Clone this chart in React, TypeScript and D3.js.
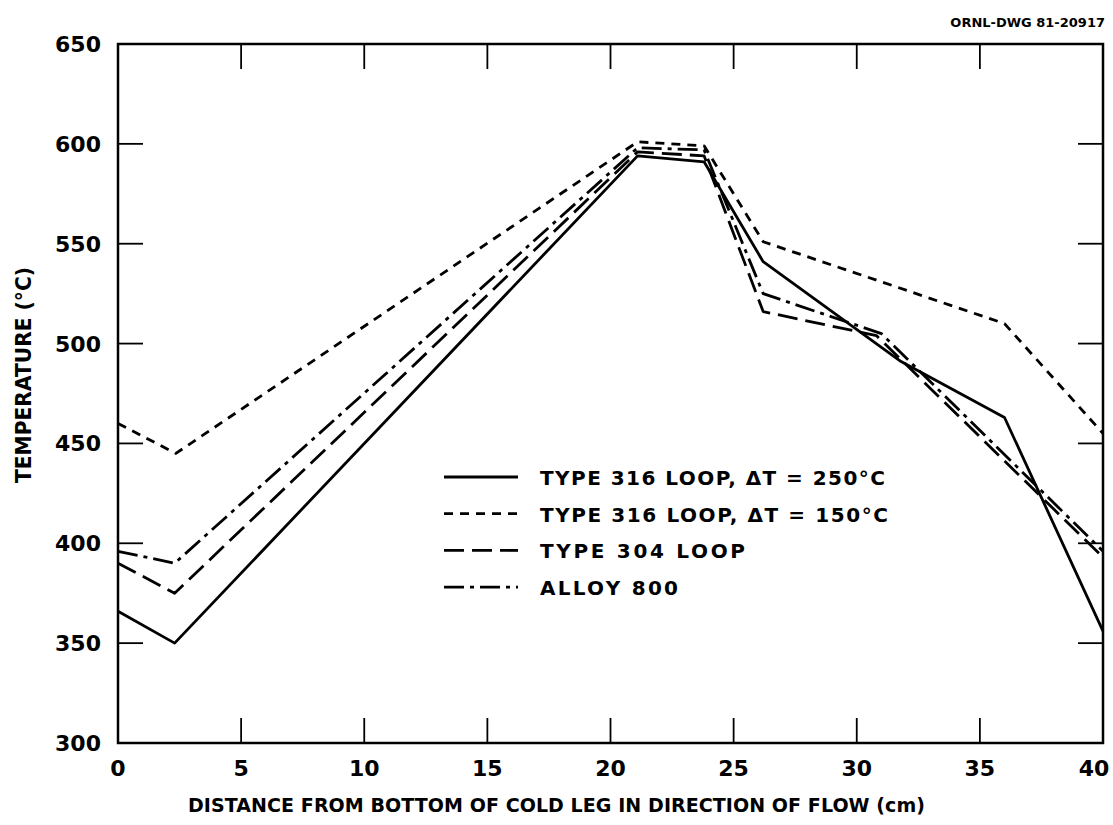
import React from "react";
import * as d3 from "d3";

const xTicks = [0, 5, 10, 15, 20, 25, 30, 35, 40];
const yTicks = [300, 350, 400, 450, 500, 550, 600, 650];

const s316_250_x = [0, 2.3, 21.1, 23.8, 26.2, 31.8, 36, 40];
const s316_250_y = [366, 350, 594, 591, 541, 491, 463, 356];

const s316_150_x = [0, 2.35, 21.1, 23.8, 26.2, 36, 40];
const s316_150_y = [460, 445, 601, 599, 551, 510, 455];

const s304_x = [0, 2.3, 21.1, 23.8, 26.2, 30.8, 40];
const s304_y = [390, 375, 596, 594, 516, 504, 393];

const alloy_x = [0, 2.3, 21.1, 23.8, 26.2, 31, 40];
const alloy_y = [396, 390, 598, 597, 525, 505, 396];

const legendLabels = [
  "TYPE 316 LOOP, \u0394T = 250\u00B0C",
  "TYPE 316 LOOP, \u0394T = 150\u00B0C",
  "TYPE 304 LOOP",
  "ALLOY 800",
];
const legendWidths = [345, 348, 205, 138];

const series = [
  { xs: s316_250_x, ys: s316_250_y, dash: "none" },
  { xs: s316_150_x, ys: s316_150_y, dash: "9,7" },
  { xs: s304_x, ys: s304_y, dash: "20,8" },
  { xs: alloy_x, ys: alloy_y, dash: "20,6,4,6" },
];

export default function App() {
  const W = 1113, H = 825;
  const left = 118, right = 1103, top = 44, bottom = 743;
  const x = d3.scaleLinear().domain([0, 40]).range([left, right]);
  const y = d3.scaleLinear().domain([300, 650]).range([bottom, top]);
  const line = d3.line<[number, number]>().x(d => x(d[0])).y(d => y(d[1]));
  const font = "'DejaVu Sans', sans-serif";
  const tickLen = 25;
  return (
    <svg width={W} height={H} style={{ position: "absolute", left: 0, top: 0, background: "#fff" }}>
      <rect x={left} y={top} width={right - left} height={bottom - top} fill="none" stroke="#000" strokeWidth={2.5} />
      {xTicks.slice(1, -1).map(t => (
        <g key={"xt" + t}>
          <line x1={x(t)} x2={x(t)} y1={top} y2={top + tickLen} stroke="#000" strokeWidth={1.8} />
          <line x1={x(t)} x2={x(t)} y1={bottom} y2={bottom - tickLen} stroke="#000" strokeWidth={1.8} />
        </g>
      ))}
      {yTicks.slice(1, -1).map(t => (
        <g key={"yt" + t}>
          <line x1={left} x2={left + tickLen} y1={y(t)} y2={y(t)} stroke="#000" strokeWidth={1.8} />
          <line x1={right} x2={right - tickLen} y1={y(t)} y2={y(t)} stroke="#000" strokeWidth={1.8} />
        </g>
      ))}
      {xTicks.map((t, i) => (
        <text key={"xl" + t} x={x(t) + (i === xTicks.length - 1 ? -9 : 0)} y={776} textAnchor="middle" fontFamily={font} fontSize={22} fontWeight={600}>{t}</text>
      ))}
      {yTicks.map(t => (
        <text key={"yl" + t} x={101} y={y(t) + 8} textAnchor="end" fontFamily={font} fontSize={22} fontWeight={600}>{t}</text>
      ))}
      <text x={188} y={812} textLength={737} lengthAdjust="spacing" fontFamily={font} fontSize={19} fontWeight={600}>
        DISTANCE FROM BOTTOM OF COLD LEG IN DIRECTION OF FLOW (cm)
      </text>
      <text transform={`translate(31,483) rotate(-90)`} textLength={216} lengthAdjust="spacingAndGlyphs" fontFamily={font} fontSize={21} fontWeight={600}>
        TEMPERATURE (°C)
      </text>
      <text x={1105} y={27} textAnchor="end" fontFamily={font} fontSize={13} fontWeight={600}>ORNL-DWG 81-20917</text>
      {series.map((s, i) => (
        <path key={"s" + i} d={line(s.xs.map((v, j) => [v, s.ys[j]]))!} fill="none" stroke="#000" strokeWidth={2.8} strokeDasharray={s.dash} strokeLinejoin="round" />
      ))}
      {legendLabels.map((lab, i) => (
        <g key={"lg" + i}>
          <line x1={444} x2={518} y1={477 + i * 36.7} y2={477 + i * 36.7} stroke="#000" strokeWidth={2.8} strokeDasharray={series[i].dash} />
          <text x={540} y={477 + i * 36.7 + 8} textLength={legendWidths[i]} lengthAdjust="spacing" fontFamily={font} fontSize={20} fontWeight={600}>{lab}</text>
        </g>
      ))}
    </svg>
  );
}
